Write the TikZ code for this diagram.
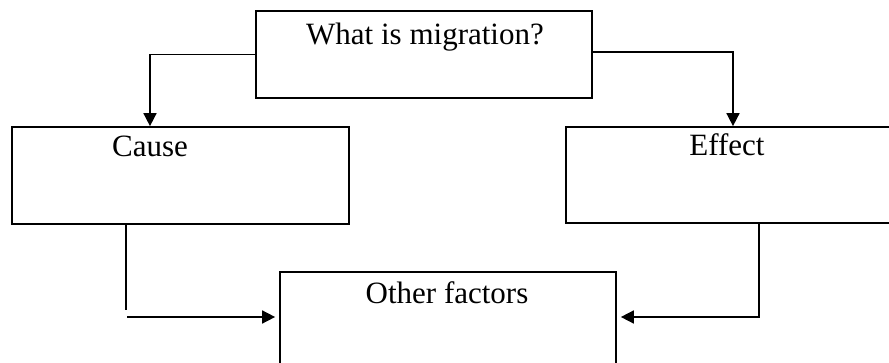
\documentclass[tikz,border=0pt]{standalone}
\usepackage{fontspec}
\setmainfont{Liberation Serif}
\usetikzlibrary{arrows.meta}
\begin{document}
\begin{tikzpicture}[x=1pt,y=1pt,
  box/.style={draw=black, line width=1.7pt, rectangle, inner sep=0pt},
  txt/.style={anchor=base, inner sep=0pt, font=\fontsize{31}{37}\selectfont},
  conn/.style={draw=black, line width=1.6pt},
  arr/.style={conn, -{Triangle[length=13pt,width=13pt]}}]
\useasboundingbox (0,0) rectangle (889,362);
\clip (0,0) rectangle (889,362);
% boxes
\node[box, minimum width=336pt, minimum height=87pt] (top) at (424,307.5) {};
\node[box, minimum width=337pt, minimum height=97pt] (cause) at (180.5,186.5) {};
\node[box, minimum width=337pt, minimum height=96pt] (effect) at (734.5,187) {};
\node[box, minimum width=336pt, minimum height=97pt] (other) at (448,41.5) {};
% texts
\node[txt] (ttop) at (425,317) {What is migration?};
\node[txt] (tcause) at (150,205) {Cause};
\node[txt] (teffect) at (727,206) {Effect};
\node[txt] (tother) at (447,59) {Other factors};
% helper coordinates
\coordinate (lx) at (150,0);
\coordinate (rx) at (733,0);
\coordinate (lb) at (126,52);
\coordinate (lh) at (127,45);
\coordinate (rb) at (759,45);
% connectors
\draw[arr] (top.west) -| (lx |- cause.north);
\draw[arr] ([yshift=2.5pt]top.east) -| (rx |- effect.north);
\draw[conn] (lb |- cause.south) -- (lb);
\draw[arr, shorten >=4pt] (lh) -- (lh -| other.west);
\draw[arr, shorten >=4pt] (rb |- effect.south) -- (rb) -- (rb -| other.east);
\end{tikzpicture}
\end{document}
